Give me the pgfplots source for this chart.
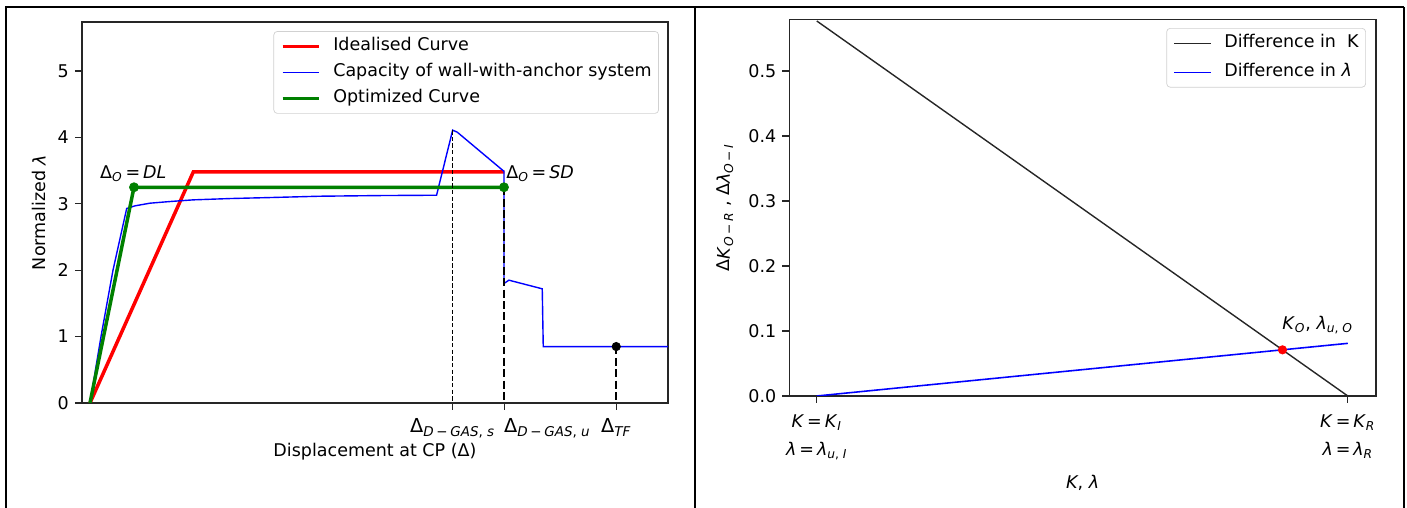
\documentclass[border=0pt]{standalone}
\usepackage{fontspec}
\setmainfont{DejaVu Sans}
\usepackage{pgfplots}
\pgfplotsset{compat=1.18}
\definecolor{mplgreen}{HTML}{008000}
\newcommand{\mminus}{\kern0.2em−\kern0.2em}
\begin{document}
\begin{tikzpicture}[x=0.5714pt,y=0.5714pt]
\path[use as bounding box] (0,0) rectangle (1407,508);
% table frame
\draw[line width=1.1pt] (5,501) -- (1404,501);
\draw[line width=1.1pt] (6,0) -- (6,501);
\draw[line width=1.1pt] (695,0) -- (695,501);
\draw[line width=1.1pt] (1404,0) -- (1404,501);

\pgfplotsset{
  mystyle/.style={
    scale only axis, anchor=south west,
    tick align=outside, major tick length=4pt,
    tick pos=left,
    axis line style={line width=0.7pt, black!85},
    every tick/.style={black!85, line width=0.7pt},
    ticklabel style={font=\fontsize{10}{12}\selectfont},
    /pgf/number format/assume math mode=true,
    label style={font=\fontsize{10}{12}\selectfont},
    legend cell align=left,
    legend image code/.code={\draw[##1] (0pt,0pt) -- (21pt,0pt);},
  }
}

% ---------- left panel ----------
\begin{axis}[mystyle,
  at={(46.85pt,60pt)}, width=334.8pt, height=217.7pt,
  xmin=-0.08, xmax=5.78, ymin=0, ymax=5.74,
  xtick={3.627,5.263},
  xticklabels={{Δ\textsubscript{\textit{D}\mminus\textit{GAS}, \textit{s}}},{Δ\textsubscript{\textit{TF}}}},
  xticklabel style={font=\fontsize{11}{13}\selectfont, yshift=-1.5pt},
  extra x ticks={4.143},
  extra x tick labels={{Δ\textsubscript{\textit{D}\mminus\textit{GAS}, \textit{u}}}},
  extra x tick style={xticklabel style={anchor=north west, xshift=-3.6pt}},
  ytick={0,1,2,3,4,5},
  xlabel={Displacement at CP (Δ)},
  ylabel={Normalized \textit{λ}},
  xlabel style={at={(axis description cs:0.5,-0.1286)}, anchor=center},
  ylabel style={at={(axis description cs:-0.0734,0.5)}, anchor=center},
  legend style={at={(0.9846,0.976)}, anchor=north east, draw=black!18, rounded corners=2pt,
    fill=white, inner xsep=4pt, inner ysep=3pt, row sep=3.9pt,
    font=\fontsize{10}{12}\selectfont,
    nodes={inner sep=0pt, text height=8pt, text depth=3pt},
    /tikz/every odd column/.append style={column sep=7pt}},
]
\addplot[red, line width=2pt] coordinates {(0,0) (1.033,3.48) (4.145,3.48)};
\addlegendentry{Idealised Curve}
\addplot[blue, line width=0.8pt] coordinates {
 (0,0) (0.11,1.0) (0.23,2.0) (0.367,2.93) (0.45,2.97) (0.6,3.01) (0.8,3.035)
 (1.03,3.06) (1.4,3.08) (1.8,3.095) (2.3,3.115) (2.9,3.125) (3.466,3.13)
 (3.627,4.11) (3.673,4.08) (4.14,3.49) (4.14,1.80) (4.19,1.85) (4.523,1.72)
 (4.533,0.85) (5.78,0.85)};
\addlegendentry{Capacity of wall-with-anchor system}
\addplot[mplgreen, line width=2pt] coordinates {(0,0) (0.44,3.25) (4.14,3.25)};
\addlegendentry{Optimized Curve}
\addplot[black, line width=0.55pt, dash pattern=on 2.5pt off 1.3pt, forget plot] coordinates {(3.627,4.11) (3.627,0)};
\addplot[black, line width=1pt, dash pattern=on 4.5pt off 2pt, forget plot] coordinates {(4.143,3.25) (4.143,0)};
\addplot[black, line width=1pt, dash pattern=on 4.5pt off 2pt, forget plot] coordinates {(5.263,0.85) (5.263,0)};
\addplot[only marks, mark=*, mark size=2.6pt, mplgreen, forget plot] coordinates {(0.44,3.25) (4.14,3.25)};
\addplot[only marks, mark=*, mark size=2.4pt, black, forget plot] coordinates {(5.263,0.85)};
\node[anchor=center, inner sep=0pt, font=\fontsize{10}{12}\selectfont] at (axis cs:0.433,3.456) {Δ\textsubscript{\textit{O}}\,=\,\textit{DL}};
\node[anchor=west, inner sep=0pt, font=\fontsize{10}{12}\selectfont] at (axis cs:4.16,3.46) {Δ\textsubscript{\textit{O}}\,=\,\textit{SD}};
\end{axis}

% ---------- right panel ----------
\begin{axis}[mystyle,
  at={(451.1pt,64pt)}, width=335.1pt, height=215.2pt,
  xmin=-0.0514, xmax=1.053, ymin=0, ymax=0.5795,
  xtick={0,1},
  xticklabels={{\textit{K}\,=\,\textit{K}\textsubscript{\textit{I}}\\[3.6pt]\textit{λ}\,=\,\textit{λ}\textsubscript{\textit{u}, \textit{I}}},{\textit{K}\,=\,\textit{K}\textsubscript{\textit{R}}\\[3.6pt]\textit{λ}\,=\,\textit{λ}\textsubscript{\textit{R}}}},
  xticklabel style={align=center, yshift=-3.4pt},
  ytick={0,0.1,0.2,0.3,0.4,0.5},
  yticklabel style={/pgf/number format/.cd, fixed, fixed zerofill, precision=1},
  xlabel={\textit{K}, \textit{λ}},
  ylabel={Δ\textit{K}\textsubscript{\textit{O}\mminus\textit{R}} , Δ\textit{λ}\textsubscript{\textit{O}\mminus\textit{I}}},
  xlabel style={at={(axis description cs:0.5,-0.231)}, anchor=center},
  ylabel style={at={(axis description cs:-0.11,0.5)}, anchor=center},
  legend style={at={(0.983,0.977)}, anchor=north east, draw=black!18, rounded corners=2pt,
    fill=white, inner xsep=4pt, inner ysep=3pt, row sep=5.6pt,
    font=\fontsize{10}{12}\selectfont,
    nodes={inner sep=0pt, text height=8pt, text depth=3pt},
    /tikz/every odd column/.append style={column sep=7pt}},
]
\addplot[black!85, line width=0.8pt] coordinates {(0,0.577) (1,0)};
\addlegendentry{Difference in~~K}
\addplot[blue, line width=0.9pt] coordinates {(0,0) (1,0.081)};
\addlegendentry{Difference in \textit{λ}}
\addplot[only marks, mark=*, mark size=2.4pt, red, forget plot] coordinates {(0.877,0.071)};
\node[anchor=south west, inner sep=0pt, font=\fontsize{10}{12}\selectfont] at (axis cs:0.876,0.095) {\textit{K}\textsubscript{\textit{O}}, \textit{λ}\textsubscript{\textit{u}, \textit{O}}};
\end{axis}
\end{tikzpicture}
\end{document}
